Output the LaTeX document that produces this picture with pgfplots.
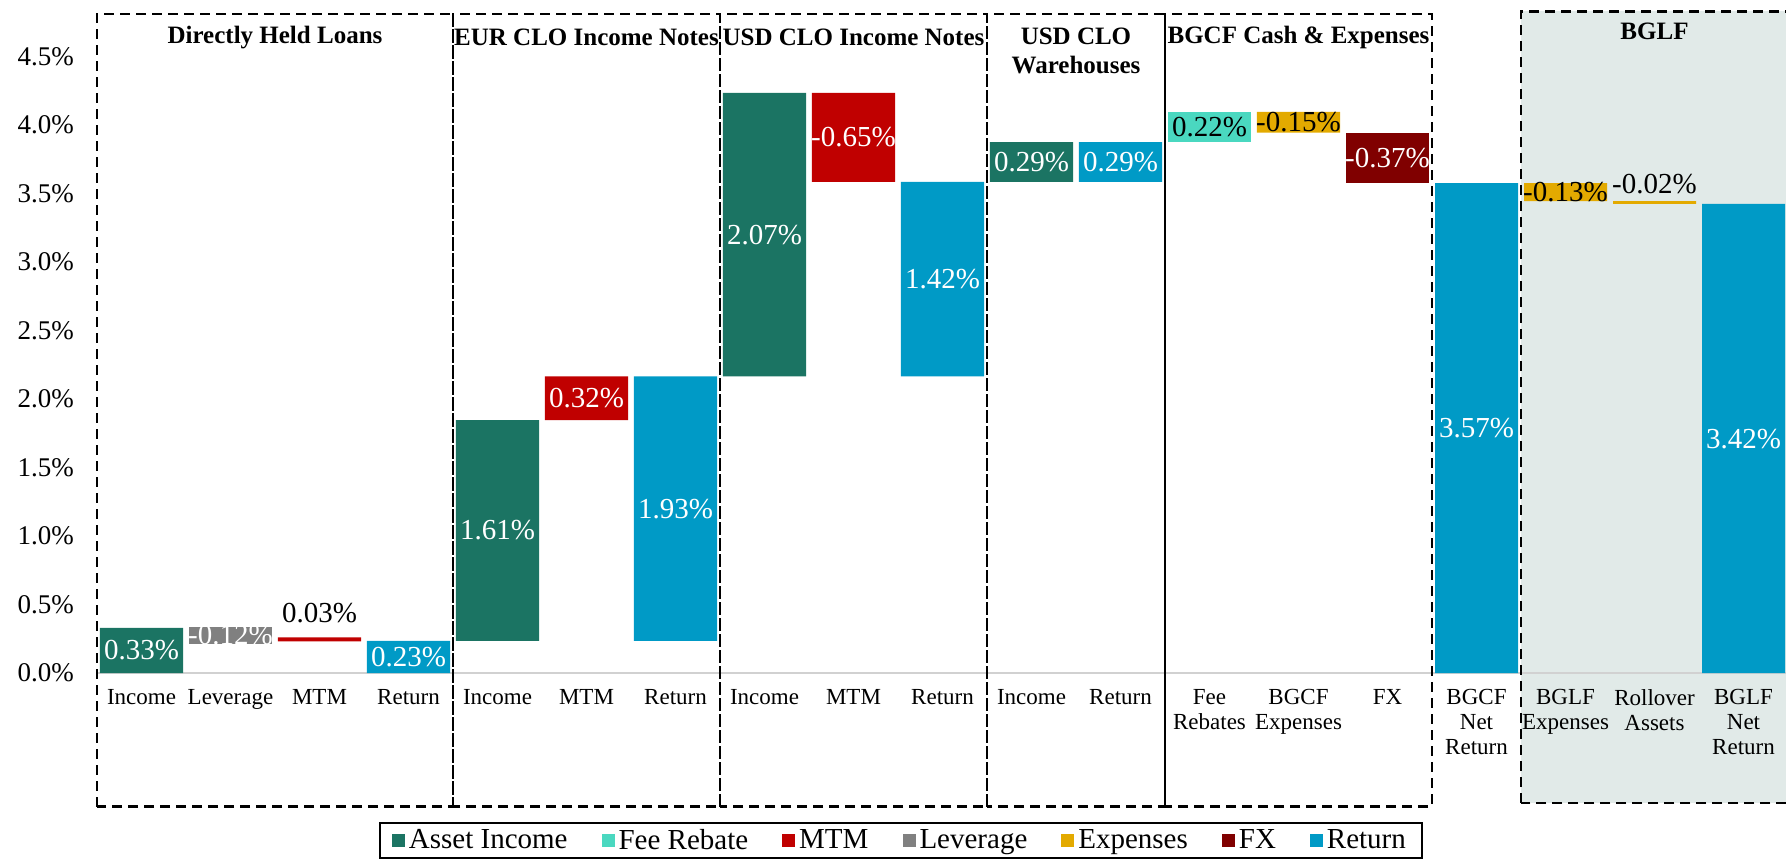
\documentclass[border=0pt]{standalone}
\usepackage{fontspec}
\setmainfont{Liberation Serif}
\usepackage{pgfplots}
\usepackage{pgfplotstable}
\pgfplotsset{compat=1.18}
\definecolor{cinc}{HTML}{1B7463}
\definecolor{cfee}{HTML}{4AD8C0}
\definecolor{cmtm}{HTML}{C00000}
\definecolor{clev}{HTML}{808080}
\definecolor{cexp}{HTML}{E3AA00}
\definecolor{cfx}{HTML}{800000}
\definecolor{cret}{HTML}{009AC6}
\definecolor{cbglf}{HTML}{E1EAE8}

\pgfplotstableread{
x base inc fee mtm lev exp fx ret
0 0 0.33 0 0 0 0 0 0
1 0.215 0 0 0 0.12 0 0 0
2 0.23 0 0 0.03 0 0 0 0
3 0 0 0 0 0 0 0 0.235
4 0.235 1.61 0 0 0 0 0 0
5 1.845 0 0 0.32 0 0 0 0
6 0.235 0 0 0 0 0 0 1.93
7 2.165 2.07 0 0 0 0 0 0
8 3.585 0 0 0.65 0 0 0 0
9 2.165 0 0 0 0 0 0 1.42
10 3.585 0.29 0 0 0 0 0 0
11 3.585 0 0 0 0 0 0 0.29
12 3.875 0 0.22 0 0 0 0 0
13 3.945 0 0 0 0 0.15 0 0
14 3.575 0 0 0 0 0 0.37 0
15 0 0 0 0 0 0 0 3.575
16 3.445 0 0 0 0 0.13 0 0
17 3.425 0 0 0 0 0.02 0 0
18 0 0 0 0 0 0 0 3.425
}\bars

\pgfplotstableread{
x y lab
0 0.165 0.33
1 0.275 -0.12
3 0.1175 0.23
4 1.04 1.61
5 2.005 0.32
6 1.2 1.93
7 3.2 2.07
8 3.91 -0.65
9 2.875 1.42
10 3.73 0.29
11 3.73 0.29
14 3.76 -0.37
15 1.79 3.57
18 1.71 3.42
}\wlab

\pgfplotstableread{
x y lab
2 0.44 0.03
12 3.985 0.22
13 4.02 -0.15
16 3.51 -0.13
17 3.57 -0.02
}\blab

\begin{document}
\begin{tikzpicture}
\fill[cbglf] (712pt,-65.1pt) rectangle (850pt,330.9pt);
\draw[black!18, line width=1pt] (0.5pt,0) -- (846pt,0);
\begin{axis}[
  at={(0,0)}, anchor=south west, scale only axis,
  width=845.5pt, height=308.25pt,
  xmin=-0.5, xmax=18.5, ymin=0, ymax=4.5,
  clip=false,
  ybar stacked, bar width=0.933,
  axis line style={draw=none}, tick style={draw=none},
  xtick={0,1,...,18},
  xticklabels={Income,Leverage,MTM,Return,Income,MTM,Return,Income,MTM,Return,Income,Return,{Fee\\Rebates},{BGCF\\Expenses},FX,{BGCF\\Net\\Return},{BGLF\\Expenses},{Rollover\\Assets},{BGLF\\Net\\Return}},
  xticklabel style={font=\fontsize{11.5}{12.5}\selectfont, align=center, anchor=north, yshift=-4.7pt},
  ytick={0,0.5,1,1.5,2,2.5,3,3.5,4,4.5},
  /pgf/number format/assume math mode=true,
  yticklabel={\pgfmathprintnumber[fixed,fixed zerofill,precision=1]{\tick}\%},
  yticklabel style={font=\fontsize{13.5}{15}\selectfont, xshift=-8pt},
  legend columns=7,
  legend style={at={(axis description cs:0.4754,-0.2417)}, anchor=north,
    draw=black, line width=1pt, font=\fontsize{14.5}{16}\selectfont,
    inner xsep=6pt, inner ysep=1pt,
    /tikz/every even column/.append style={column sep=15pt}},
  legend image code/.code={\fill[#1] (0pt,-3.25pt) rectangle (6.5pt,3.25pt);},
]
\addplot[forget plot, draw=none, fill=none] table[x=x,y=base]{\bars};
\addplot[fill=cinc, draw=none] table[x=x,y=inc]{\bars}; \addlegendentry{Asset Income}
\addplot[fill=cfee, draw=none] table[x=x,y=fee]{\bars}; \addlegendentry{Fee Rebate}
\addplot[fill=cmtm, draw=none] table[x=x,y=mtm]{\bars}; \addlegendentry{MTM}
\addplot[fill=clev, draw=none] table[x=x,y=lev]{\bars}; \addlegendentry{Leverage}
\addplot[fill=cexp, draw=none] table[x=x,y=exp]{\bars}; \addlegendentry{Expenses}
\addplot[fill=cfx, draw=none] table[x=x,y=fx]{\bars}; \addlegendentry{FX}
\addplot[fill=cret, draw=none] table[x=x,y=ret]{\bars}; \addlegendentry{Return}
\end{axis}
\begin{axis}[
  at={(0,0)}, anchor=south west, scale only axis,
  width=845.5pt, height=308.25pt,
  xmin=-0.5, xmax=18.5, ymin=0, ymax=4.5,
  clip=false, hide axis,
]
\addplot[only marks, mark=none, point meta=explicit symbolic,
  nodes near coords={\pgfplotspointmeta\%}, nodes near coords align=center,
  every node near coord/.append style={text=white, font=\fontsize{14.5}{16}\selectfont, inner sep=0pt}]
  table[x=x,y=y,meta=lab]{\wlab};
\addplot[only marks, mark=none, point meta=explicit symbolic,
  nodes near coords={\pgfplotspointmeta\%}, nodes near coords align=center,
  every node near coord/.append style={text=black, font=\fontsize{14.5}{16}\selectfont, inner sep=0pt}]
  table[x=x,y=y,meta=lab]{\blab};
\begin{scope}[line width=1.3pt, dash pattern=on 5pt off 3pt]
\draw (axis cs:-0.5,-0.975) rectangle (axis cs:3.5,4.81);
\draw (axis cs:3.5,-0.975) rectangle (axis cs:6.5,4.81);
\draw (axis cs:6.5,-0.975) rectangle (axis cs:9.5,4.81);
\draw (axis cs:9.5,-0.975) rectangle (axis cs:11.5,4.81);
\draw (axis cs:11.5,-0.975) rectangle (axis cs:14.5,4.81);
\draw (axis cs:15.5,-0.95) rectangle (axis cs:18.7,4.83);
\end{scope}
\begin{scope}[font=\bfseries\fontsize{12.5}{14.5}\selectfont]
\node at (axis cs:1.5,4.64) {Directly Held Loans};
\node at (axis cs:5,4.64) {EUR CLO Income Notes};
\node at (axis cs:8,4.64) {USD CLO Income Notes};
\node[align=center] at (axis cs:10.5,4.54) {USD CLO\\Warehouses};
\node at (axis cs:13,4.64) {BGCF Cash \& Expenses};
\node at (axis cs:17,4.68) {BGLF};
\end{scope}
\end{axis}
\pgfresetboundingbox
\path[use as bounding box] (-48.5pt,-94.5pt) rectangle (844.5pt,336.5pt);
\end{tikzpicture}
\end{document}
